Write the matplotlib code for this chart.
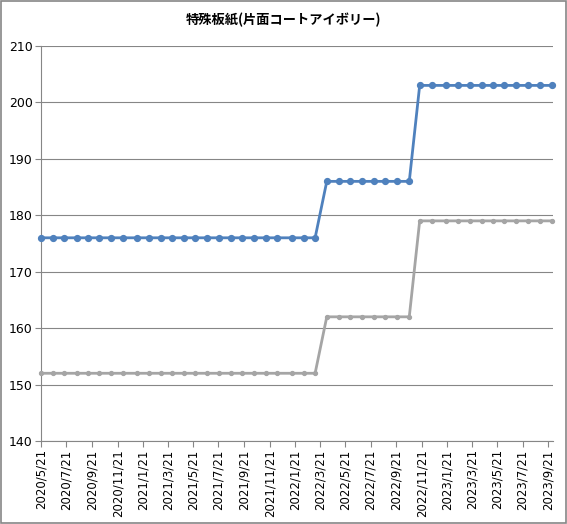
import numpy as np
import pandas as pd
import matplotlib
matplotlib.use("Agg")
import matplotlib.pyplot as plt

plt.rcParams['font.family'] = ['Noto Sans CJK JP', 'DejaVu Sans']

# survey dates and prices
dates = pd.to_datetime([
    "2020-05-21", "2020-06-19", "2020-07-15", "2020-08-15", "2020-09-10",
    "2020-10-07", "2020-11-05", "2020-12-04", "2021-01-06", "2021-02-04",
    "2021-03-05", "2021-03-31", "2021-04-29", "2021-05-26", "2021-06-24",
    "2021-07-22", "2021-08-19", "2021-09-15", "2021-10-14", "2021-11-13",
    "2021-12-09", "2022-01-13", "2022-02-11", "2022-03-10", "2022-04-07",
    "2022-05-06", "2022-06-01", "2022-06-30", "2022-07-29", "2022-08-24",
    "2022-09-22", "2022-10-22", "2022-11-16", "2022-12-15", "2023-01-19",
    "2023-02-15", "2023-03-16", "2023-04-14", "2023-05-11", "2023-06-07",
    "2023-07-06", "2023-08-04", "2023-09-01", "2023-09-30",
])
upper = [176] * 24 + [186] * 8 + [203] * 12
lower = [152] * 24 + [162] * 8 + [179] * 12

tick_dates = pd.date_range("2020-05-01", "2023-09-01", freq="2MS") + pd.Timedelta(days=20)
tick_labels = [f"{d.year}/{d.month}/{d.day}" for d in tick_dates]

fig = plt.figure(figsize=(5.67, 5.24), dpi=100)
ax = fig.add_axes([0.0723, 0.1584, 0.903, 0.754])

ax.plot(dates, upper, color="#4F81BD", lw=2.0, marker="o", ms=4.2,
        clip_on=False, zorder=3)
ax.plot(dates, lower, color="#A5A5A5", lw=2.0, marker="o", ms=2.8,
        clip_on=False, zorder=3)

ax.set_ylim(140, 210)
ax.set_yticks(np.arange(140, 211, 10))
ax.set_xlim(pd.Timestamp("2020-05-21"), pd.Timestamp("2020-05-21") + pd.Timedelta(days=1229))
ax.set_xticks(tick_dates)
ax.set_xticklabels(tick_labels, rotation=90, fontsize=8.5, family="DejaVu Sans")
for lab in ax.get_yticklabels():
    lab.set_fontsize(9)
    lab.set_family("DejaVu Sans")

ax.grid(axis="y", color="#868686", lw=0.8)
ax.set_axisbelow(True)
for s in ["top", "right"]:
    ax.spines[s].set_visible(False)
for s in ["left", "bottom"]:
    ax.spines[s].set_color("#868686")
    ax.spines[s].set_linewidth(0.8)
ax.tick_params(axis="both", color="#868686", length=4, width=0.8, pad=2)

fig.suptitle("特殊板紙(片面コートアイボリー)", fontsize=9.5, fontweight="bold", y=0.975)

# outer chart border
fig.patches.append(plt.Rectangle((0.002, 0.002), 0.996, 0.996, transform=fig.transFigure,
                                 fill=False, edgecolor="#868686", lw=1.2))

fig.savefig("out.png", dpi=100)
